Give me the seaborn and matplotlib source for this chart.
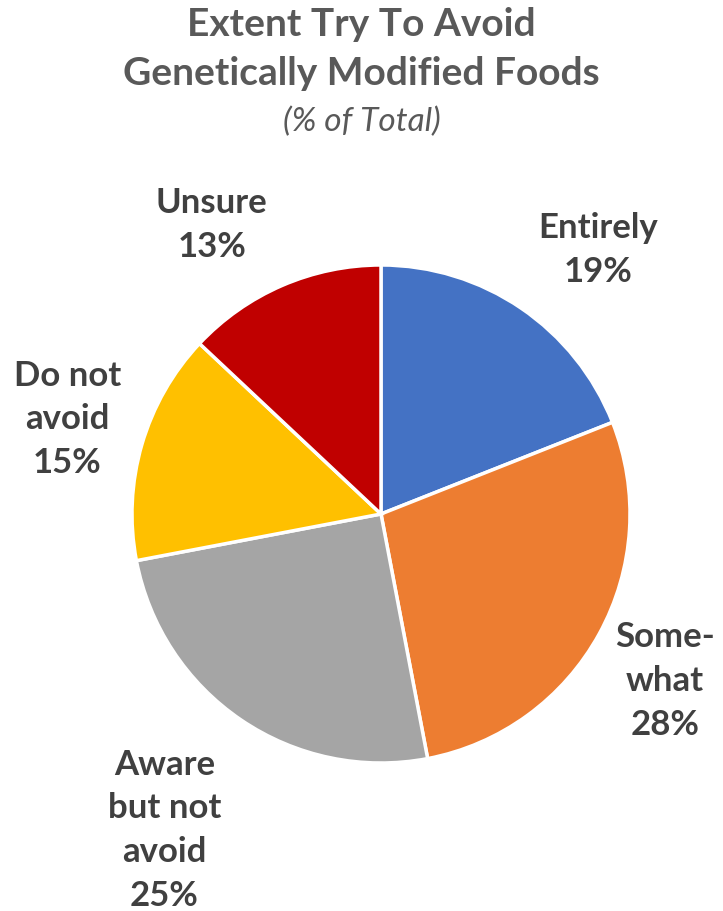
import matplotlib
matplotlib.use("Agg")
import matplotlib.pyplot as plt
import seaborn as sns

sns.set_theme(style="white")
plt.rcParams["font.family"] = ["Lato", "DejaVu Sans"]

# Survey shares, clockwise from 12 o'clock
categories = ["Entirely", "Some-\nwhat", "Aware\nbut not\navoid", "Do not\navoid", "Unsure"]
shares = [19, 28, 25, 15, 13]
colors = ["#4472C4", "#ED7D31", "#A5A5A5", "#FFC000", "#C00000"]

# Label anchor points in pie-radius units
label_xy = [(0.87, 1.06), (1.14, -0.67), (-0.87, -1.27), (-1.26, 0.38), (-0.68, 1.16)]

fig = plt.figure(figsize=(7.23, 9.11), dpi=100)
ax = fig.add_axes([132 / 723, 1 - 763 / 911, 498 / 723, 498 / 911])

wedges, _ = ax.pie(
    shares,
    colors=colors,
    startangle=90,
    counterclock=False,
    radius=1.0,
    wedgeprops=dict(edgecolor="white", linewidth=2.5),
)
ax.set_xlim(-1, 1)
ax.set_ylim(-1, 1)
ax.set_aspect("auto")
ax.axis("off")

for name, val, (x, y) in zip(categories, shares, label_xy):
    ax.text(x, y, f"{name}\n{val}%", ha="center", va="center",
            fontsize=25, fontweight="bold", color="#404040",
            linespacing=1.45, clip_on=False)

fig.text(0.5, 1 - 49 / 911, "Extent Try To Avoid\nGenetically Modified Foods",
         ha="center", va="center", fontsize=28, fontweight="bold",
         color="#595959", linespacing=1.45)
fig.text(0.5, 1 - 122 / 911, "(% of Total)", ha="center", va="center",
         fontsize=24, fontstyle="italic", color="#595959")

fig.savefig("out.png", dpi=100, facecolor="white")
